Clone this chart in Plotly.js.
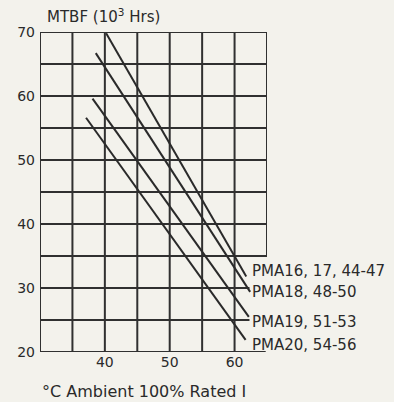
<!DOCTYPE html>
<html>
<head>
<meta charset="utf-8">
<script src="https://cdn.plot.ly/plotly-3.0.1.min.js"></script>
<style>
html,body{margin:0;padding:0;background:#f3f2ec;}
#chart{width:394px;height:402px;}
</style>
</head>
<body>
<div id="chart"></div>
<script>
// Data (°C ambient vs MTBF in 10^3 hours)
const seriesNames = ["PMA16, 17, 44-47", "PMA18, 48-50", "PMA19, 51-53", "PMA20, 54-56"];
const tempPMA16 = [40.2, 61.8];
const mtbfPMA16 = [69.8, 31.8];
const tempPMA18 = [38.6, 62.4];
const mtbfPMA18 = [66.7, 29.4];
const tempPMA19 = [38.1, 62.2];
const mtbfPMA19 = [59.6, 25.5];
const tempPMA20 = [37.1, 61.7];
const mtbfPMA20 = [56.6, 21.9];

const xTickVals = [40, 50, 60];
const yTickVals = [20, 30, 40, 50, 60, 70];
const xGrid = [30, 35, 40, 45, 50, 55, 60, 65];
const yGrid = [20, 25, 30, 35, 40, 45, 50, 55, 60, 65, 70];

const ink = "#2a2a2a";
const font = "DejaVu Sans, Liberation Sans, Arial, sans-serif";

const xs = [tempPMA16, tempPMA18, tempPMA19, tempPMA20];
const ys = [mtbfPMA16, mtbfPMA18, mtbfPMA19, mtbfPMA20];
const traces = seriesNames.map((n, i) => ({
  type: "scatter", mode: "lines", name: n,
  x: xs[i], y: ys[i],
  line: {color: ink, width: 2},
  hoverinfo: "skip"
}));

const shapes = [];
xGrid.forEach(g => {
  shapes.push({type: "line", xref: "x", yref: "y", x0: g, x1: g,
    y0: g === 65 ? 35 : 20, y1: 70, line: {color: "#303030", width: 2}, layer: "below"});
});
yGrid.forEach(g => {
  let xe = 65;
  if (g === 25 || g === 30) xe = 62.3;
  if (g === 20) xe = 64.8;
  shapes.push({type: "line", xref: "x", yref: "y", x0: 30, x1: xe,
    y0: g, y1: g, line: {color: "#303030", width: 2}, layer: "below"});
});

const labelY = [0.253, 0.1875, 0.094, 0.022];
const annotations = seriesNames.map((n, i) => ({
  text: n, xref: "paper", yref: "paper", x: 0.925, y: labelY[i],
  xanchor: "left", yanchor: "middle", showarrow: false,
  font: {family: font, size: 15, color: ink}
}));
annotations.push({
  text: "MTBF (10<sup>3</sup> Hrs)", xref: "paper", yref: "paper",
  x: 0.02, y: 1, xanchor: "left", yanchor: "bottom", yshift: 4, showarrow: false,
  font: {family: font, size: 15, color: ink}
});
annotations.push({
  text: "°C Ambient 100% Rated I", xref: "paper", yref: "paper",
  x: 0.0, y: 0, xanchor: "left", yanchor: "top", yshift: -28, showarrow: false,
  font: {family: font, size: 16, color: ink}
});

const layout = {
  width: 394, height: 402,
  margin: {l: 40, r: 127, t: 32, b: 50},
  paper_bgcolor: "#f3f2ec", plot_bgcolor: "#f3f2ec",
  showlegend: false,
  xaxis: {range: [30, 65], tickvals: xTickVals, showgrid: false, zeroline: false,
    showline: false, ticks: "", fixedrange: true,
    tickfont: {family: font, size: 14, color: ink}},
  yaxis: {range: [20, 70], tickvals: yTickVals, showgrid: false, zeroline: false,
    showline: false, ticks: "", fixedrange: true, ticklabelstandoff: 4,
    tickfont: {family: font, size: 14, color: ink}},
  shapes: shapes,
  annotations: annotations
};

Plotly.newPlot("chart", traces, layout, {displayModeBar: false, staticPlot: true});
</script>
</body>
</html>
